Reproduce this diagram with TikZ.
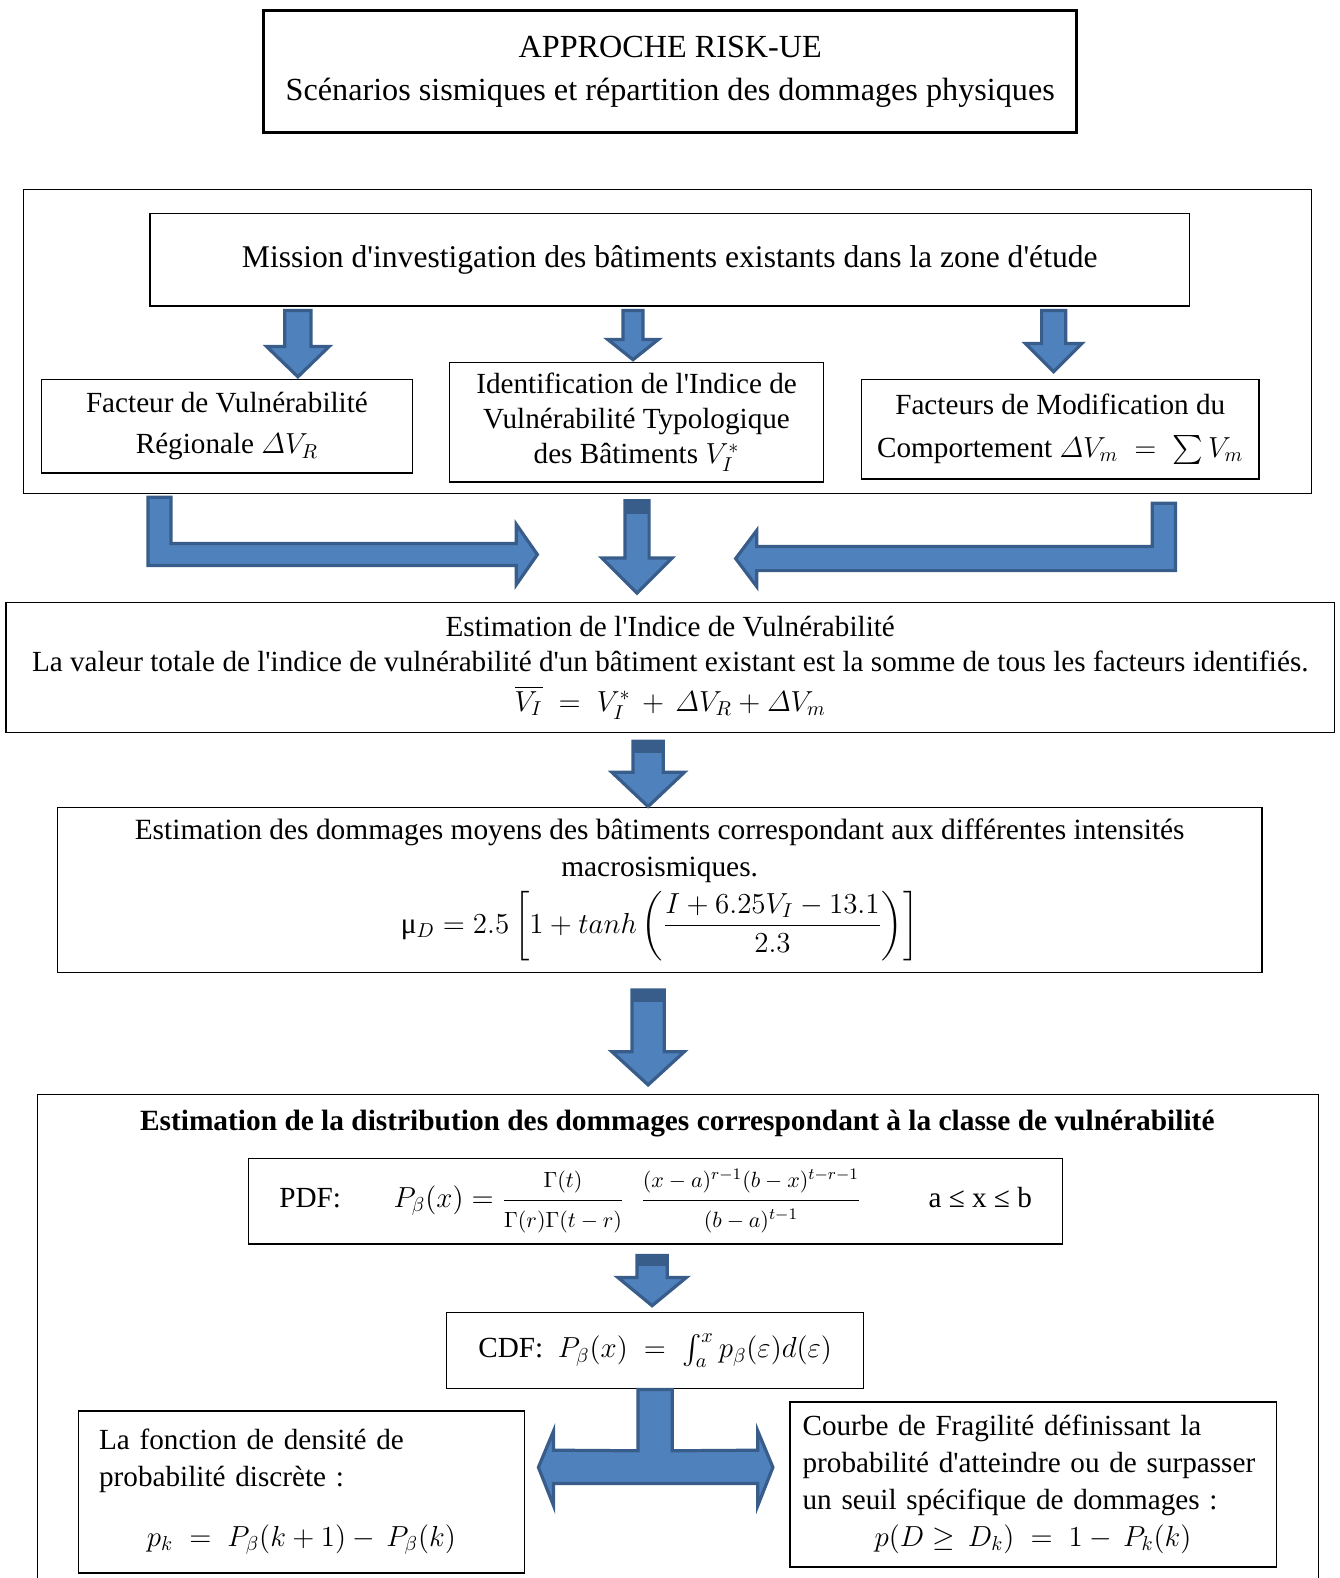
\documentclass[tikz,border=0pt]{standalone}
\usepackage{fontspec}
\setmainfont{Liberation Serif}
\usepackage{amsmath}
\usetikzlibrary{calc}
\definecolor{arrowfill}{HTML}{4F81BD}
\definecolor{arrowline}{HTML}{385D8A}

\newcommand{\q}{\textquotesingle}
\newcommand{\pfrac}[2]{\dfrac{\mbox{\fontsize{11}{12}\selectfont$#1$}}{\mbox{\fontsize{11}{12}\selectfont$#2$}}}

% block arrow pointing down, from one node anchor to another
% #1 x, #2 from, #3 to, #4 shaft half width, #5 head half width,
% #6 head length, #7 top gap, #8 tip gap, #9 cap height
\newcommand{\downblock}[9]{%
  \draw[blockarrow]
    ($(#1,0 |- #2)+(-#4,#7)$) -- ($(#1,0 |- #2)+(#4,#7)$)
    -- ($(#1,0 |- #3)+(#4,-#8-#6)$) -- ($(#1,0 |- #3)+(#5,-#8-#6)$)
    -- ($(#1,0 |- #3)+(0,-#8)$)
    -- ($(#1,0 |- #3)+(-#5,-#8-#6)$) -- ($(#1,0 |- #3)+(-#4,-#8-#6)$) -- cycle;
  \fill[arrowline] ($(#1,0 |- #2)+(-#4,#7)$) rectangle ($(#1,0 |- #2)+(#4,#7+#9)$);}

\begin{document}
\begin{tikzpicture}[x=0.5pt, y=-0.5pt,
    box/.style = {draw, line width=0.6pt, align=center, inner sep=4pt, font=\fontsize{14.5}{17.5}\selectfont},
    boxsize/.style 2 args = {minimum width=#1*0.5pt, minimum height=#2*0.5pt},
    blockarrow/.style = {fill=arrowfill, draw=arrowline, line width=1.6pt, line join=miter}]
  \useasboundingbox (0,0) rectangle (1331,1568);
  \clip (0,0) rectangle (1331,1568);

  % title
  \node[box, boxsize={808}{122}, line width=1.5pt, font=\fontsize{16}{21.5}\selectfont] (title) at (666,71)
    {APPROCHE RISK-UE\\Scénarios sismiques et répartition des dommages physiques};

  % investigation
  \node[box, boxsize={1280}{302}] (zone) at (663,339) {};
  \node[box, boxsize={1033}{92}, font=\fontsize{15.7}{19}\selectfont] (mission) at (665.5,258)
    {Mission d\q investigation des bâtiments existants dans la zone d\q étude};
  \node[box, boxsize={369}{93}] (factR) at (225.5,423.5)
    {Facteur de Vulnérabilité\\[3pt]Régionale $\varDelta V_R$};
  \node[box, boxsize={371}{119}] (ident) at (632.5,419.5)
    {Identification de l\q Indice de\\Vulnérabilité Typologique\\des Bâtiments $V_I^{*}$};
  \node[box, boxsize={395}{99}] (factM) at (1053.5,426.5)
    {Facteurs de Modification du\\[4pt]Comportement $\varDelta V_m \;=\; \textstyle\sum V_m$};

  \downblock{296}{mission.south}{factR.north}{13}{31}{30}{4}{2}{0}
  \downblock{629}{mission.south}{ident.north}{10}{25}{20}{4}{2}{0}
  \downblock{1047}{mission.south}{factM.north}{12}{28}{28}{4}{7}{0}

  % vulnerability index
  \node[box, boxsize={1320}{129}] (estIdx) at (666,663.5)
    {Estimation de l\q Indice de Vulnérabilité\\La valeur totale de l\q indice de vulnérabilité d\q un bâtiment existant est la somme de tous les facteurs identifiés.\\[2pt]$\overline{V_I} \;=\; V_I^{*} \,+\, \varDelta V_R + \varDelta V_m$};

  \draw[blockarrow] (147,494) -- (170,494) -- (170,540) -- (513,540) -- (513,521)
    -- (534,551) -- (513,581) -- (513,562) -- (147,562) -- cycle;
  \draw[blockarrow] (1168,500) -- (1168,567) -- (752,567) -- (752,583) -- (731,555)
    -- (752,527) -- (752,543) -- (1145,543) -- (1145,500) -- cycle;
  \downblock{633}{zone.south}{estIdx.north}{12}{35}{35}{7}{9}{13}

  % mean damage
  \node[box, boxsize={1197}{164}, font=\fontsize{14.6}{18.5}\selectfont] (estDom) at (655.5,884)
    {Estimation des dommages moyens des bâtiments correspondant aux différentes intensités\\macrosismiques.\\[3pt]
     μ$_D = 2.5\left[1 + tanh\left(\dfrac{I + 6.25V_I - 13.1}{2.3}\right)\right]$};
  \downblock{644}{estIdx.south}{estDom.north}{15}{36}{34}{8}{0}{12}

  % damage distribution
  \node[box, boxsize={1273}{700}, anchor=north] (distrib) at (673.5,1087) {};
  \downblock{644}{estDom.south}{distrib.north}{16}{36}{33}{17}{9}{12}
  \node[font=\fontsize{14.6}{16}\selectfont\bfseries] (heading) at (673,1116)
    {Estimation de la distribution des dommages correspondant à la classe de vulnérabilité};
  \node[box, boxsize={809}{85}] (pdf) at (651.5,1193.5)
    {PDF:\hspace{1.8em}$P_\beta(x) = \pfrac{\Gamma(t)}{\Gamma(r)\Gamma(t-r)}\;\;\pfrac{(x-a)^{r-1}(b-x)^{t-r-1}}{(b-a)^{t-1}}$\hspace{2.3em}a ≤ x ≤ b};
  \node[box, boxsize={414}{76}] (cdf) at (651,1342)
    {CDF:~ $P_\beta(x) \;=\; \int_a^x p_\beta(\varepsilon)d(\varepsilon)$};
  \downblock{648}{pdf.south}{cdf.north}{15}{34}{28}{11}{6}{10}

  \node[box, boxsize={443}{161}, align=left, text width=201pt, font=\fontsize{14.5}{18}\selectfont] (discrete) at (299.5,1482.5)
    {La fonction de densité de\\probabilité discrète :\\[12pt]\makebox[\linewidth]{$p_k \;=\; P_\beta(k+1) -\, P_\beta(k)$}};
  \node[box, boxsize={483}{164}, align=left, text width=229pt, font=\fontsize{14.5}{18.3}\selectfont] (fragil) at (1026.5,1475)
    {Courbe de Fragilité définissant la\\probabilité d\q atteindre ou de surpasser\\un seuil spécifique de dommages :\\\makebox[\linewidth]{$p(D \geq\, D_k) \;=\; 1 -\, P_k(k)$}};

  \draw[blockarrow] ($(cdf.south)+(-17,0)$) -- ($(cdf.south)+(17,0)$) -- ($(cdf.south)+(17,61)$)
    -- (753,1441) -- (753,1422) -- (768,1458) -- (753,1496) -- (753,1474)
    -- (550,1474) -- (550,1496) -- (535,1458) -- (550,1422) -- (550,1441)
    -- ($(cdf.south)+(-17,61)$) -- cycle;
\end{tikzpicture}
\end{document}
